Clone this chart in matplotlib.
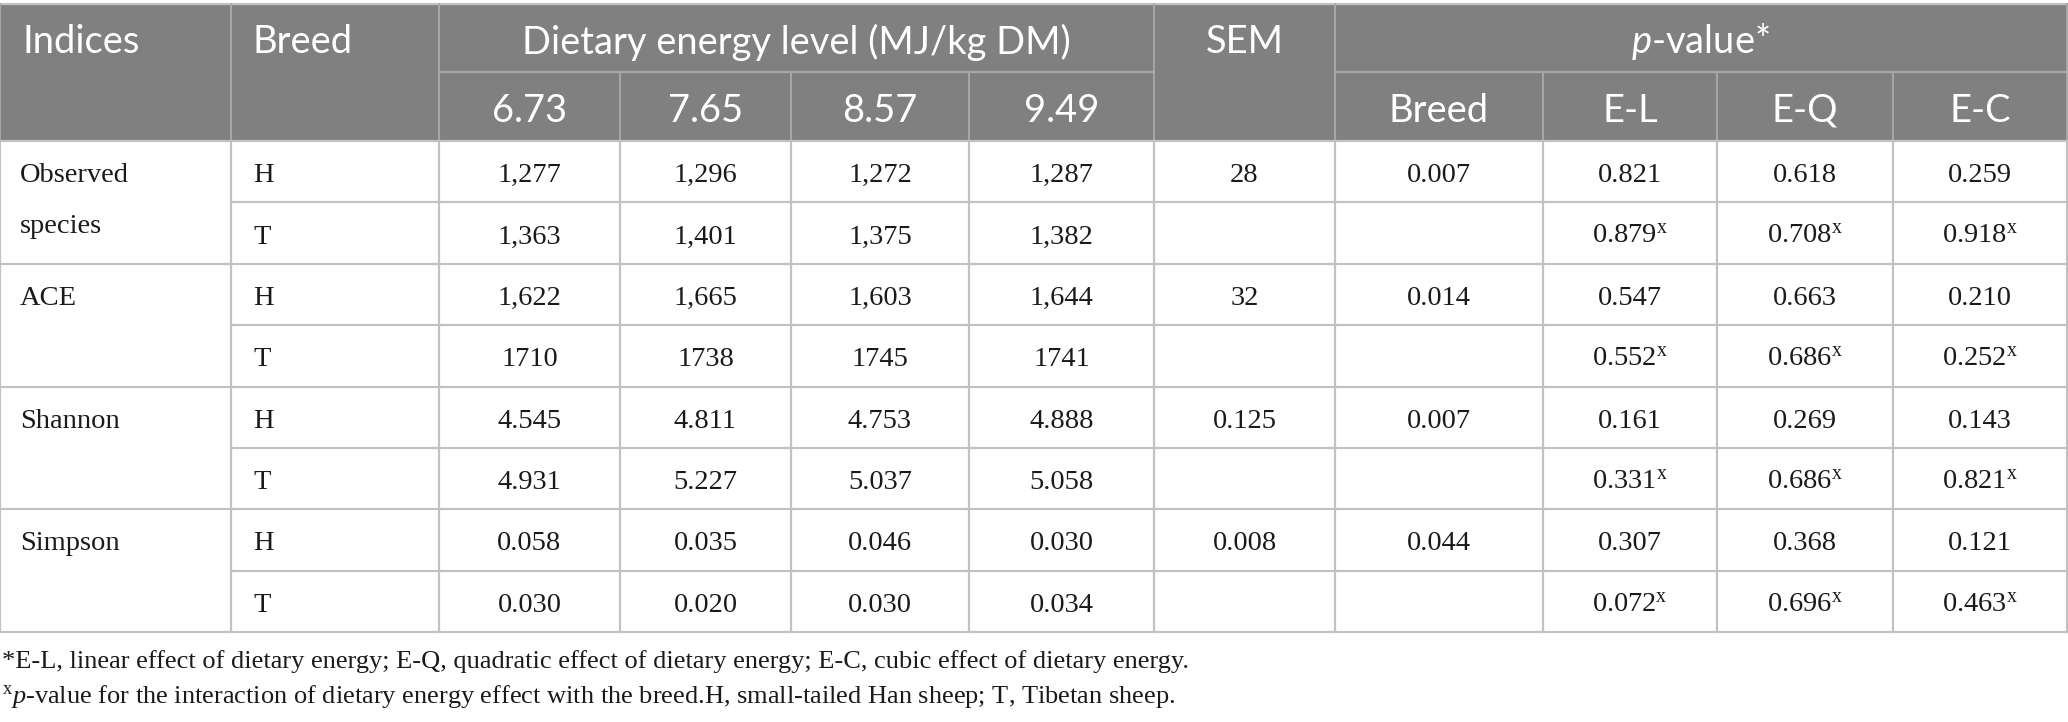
import matplotlib
matplotlib.use("Agg")
import matplotlib.pyplot as plt
from matplotlib.patches import Rectangle

plt.rcParams['mathtext.fontset'] = 'custom'
plt.rcParams['mathtext.rm'] = 'Liberation Serif'
plt.rcParams['mathtext.it'] = 'Liberation Serif:italic'
plt.rcParams['mathtext.sf'] = 'Lato:italic'

# table content
energy_levels = ['6.73', '7.65', '8.57', '9.49']
p_cols = ['Breed', 'E-L', 'E-Q', 'E-C']
indices = ['Observed\nspecies', 'ACE', 'Shannon', 'Simpson']
breeds = ['H', 'T']

obs_H = ['1,277', '1,296', '1,272', '1,287']
obs_T = ['1,363', '1,401', '1,375', '1,382']
ace_H = ['1,622', '1,665', '1,603', '1,644']
ace_T = ['1710', '1738', '1745', '1741']
shannon_H = ['4.545', '4.811', '4.753', '4.888']
shannon_T = ['4.931', '5.227', '5.037', '5.058']
simpson_H = ['0.058', '0.035', '0.046', '0.030']
simpson_T = ['0.030', '0.020', '0.030', '0.034']

sem = ['28', '32', '0.125', '0.008']
p_breed = ['0.007', '0.014', '0.007', '0.044']

p_H = [['0.821', '0.618', '0.259'],
       ['0.547', '0.663', '0.210'],
       ['0.161', '0.269', '0.143'],
       ['0.307', '0.368', '0.121']]
# interaction p-values (marked x)
p_T = [['0.879', '0.708', '0.918'],
       ['0.552', '0.686', '0.252'],
       ['0.331', '0.686', '0.821'],
       ['0.072', '0.696', '0.463']]

values_H = [obs_H, ace_H, shannon_H, simpson_H]
values_T = [obs_T, ace_T, shannon_T, simpson_T]

note1 = '*E-L, linear effect of dietary energy; E-Q, quadratic effect of dietary energy; E-C, cubic effect of dietary energy.'
note2 = '$^{\\mathrm{x}}p$-value for the interaction of dietary energy effect with the breed.H, small-tailed Han sheep; T, Tibetan sheep.'

# layout (pixels)
W, H = 2068, 722
xs = [0, 231, 439, 620, 791, 969, 1154, 1335, 1543, 1717, 1893, 2067]
y_top, y_mid, y_head = 4, 72, 141
row_h = (632 - y_head) / 8
head_bg = '#808080'
head_line = '#a8a8a8'
grid = '#c2c2c2'
hfont = 'Lato'
bfont = 'Liberation Serif'
bsize = 20.5
dy = 4  # nudge text a bit down, descent makes va=center sit high

fig = plt.figure(figsize=(W / 100, H / 100), dpi=100)
ax = fig.add_axes([0, 0, 1, 1])
ax.set_xlim(0, W)
ax.set_ylim(H, 0)
ax.axis('off')
rend = fig.canvas.get_renderer()


def fit_size(s, family, target, start=20):
    t = ax.text(0, 0, s, fontsize=start, family=family)
    w = t.get_window_extent(renderer=rend).width
    t.remove()
    return start * target / w


hsize = fit_size('Dietary energy level (MJ/kg DM)', hfont, 551)
fsize = fit_size(note1, bfont, 1189)

# header block
ax.add_patch(Rectangle((0, y_top), W, y_head - y_top, color=head_bg, lw=0))
ax.plot([0, W], [y_top, y_top], color=grid, lw=1.6)
for x in [xs[0], xs[1], xs[2], xs[6], xs[7], xs[11]]:
    ax.plot([x, x], [y_top, y_head], color=head_line, lw=1.4)
for x in xs[3:6] + xs[8:11]:
    ax.plot([x, x], [y_mid, y_head], color=head_line, lw=1.4)
ax.plot([xs[2], xs[6]], [y_mid, y_mid], color=head_line, lw=1.6)
ax.plot([xs[7], xs[11]], [y_mid, y_mid], color=head_line, lw=1.6)

c1 = (y_top + y_mid) / 2 + dy
c2 = (y_mid + y_head) / 2 + dy
hkw = dict(color='white', fontsize=hsize, family=hfont, va='center')
ax.text(xs[0] + 22, c1, 'Indices', ha='left', **hkw)
ax.text(xs[1] + 22, c1, 'Breed', ha='left', **hkw)
ax.text((xs[2] + xs[6]) / 2, c1, 'Dietary energy level (MJ/kg DM)', ha='center', **hkw)
ax.text((xs[6] + xs[7]) / 2, c1, 'SEM', ha='center', **hkw)
ax.text((xs[7] + xs[11]) / 2, c1, '$\\mathsf{p}$-value*', ha='center', **hkw)
for i, lab in enumerate(energy_levels):
    ax.text((xs[2 + i] + xs[3 + i]) / 2, c2, lab, ha='center', **hkw)
for i, lab in enumerate(p_cols):
    ax.text((xs[7 + i] + xs[8 + i]) / 2, c2, lab, ha='center', **hkw)

# body
bkw = dict(color='#1a1a1a', fontsize=bsize, family=bfont, va='center')
for g, name in enumerate(indices):
    top = y_head + 2 * g * row_h
    mid = top + row_h
    bot = top + 2 * row_h
    ax.plot([xs[1], xs[11]], [mid, mid], color=grid, lw=1.6)
    ax.plot([xs[0], xs[11]], [bot, bot], color=grid, lw=1.6)
    ya = top + row_h / 2 + dy
    yb = mid + row_h / 2 + dy
    for k, ln in enumerate(name.split('\n')):
        ax.text(xs[0] + 20, ya + k * 51, ln, ha='left', **bkw)
    ax.text(xs[1] + 22, ya, breeds[0], ha='left', **bkw)
    ax.text(xs[1] + 22, yb, breeds[1], ha='left', **bkw)
    for i in range(4):
        xc = (xs[2 + i] + xs[3 + i]) / 2
        ax.text(xc, ya, values_H[g][i], ha='center', **bkw)
        ax.text(xc, yb, values_T[g][i], ha='center', **bkw)
    ax.text((xs[6] + xs[7]) / 2, ya, sem[g], ha='center', **bkw)
    ax.text((xs[7] + xs[8]) / 2, ya, p_breed[g], ha='center', **bkw)
    for j in range(3):
        xc = (xs[8 + j] + xs[9 + j]) / 2
        ax.text(xc, ya, p_H[g][j], ha='center', **bkw)
        ax.text(xc, yb, p_T[g][j] + '$^{\\mathrm{x}}$', ha='center', **bkw)

ax.plot([0, W], [y_head, y_head], color=grid, lw=1.6)
for x in xs:
    ax.plot([x, x], [y_head, 632], color=grid, lw=1.6)

# footnotes
fkw = dict(color='#1a1a1a', fontsize=fsize, family=bfont, va='center', ha='left')
ax.text(2, 662, note1, **fkw)
ax.text(2, 696, note2, **fkw)

fig.savefig('out.png', dpi=100, facecolor='white')
